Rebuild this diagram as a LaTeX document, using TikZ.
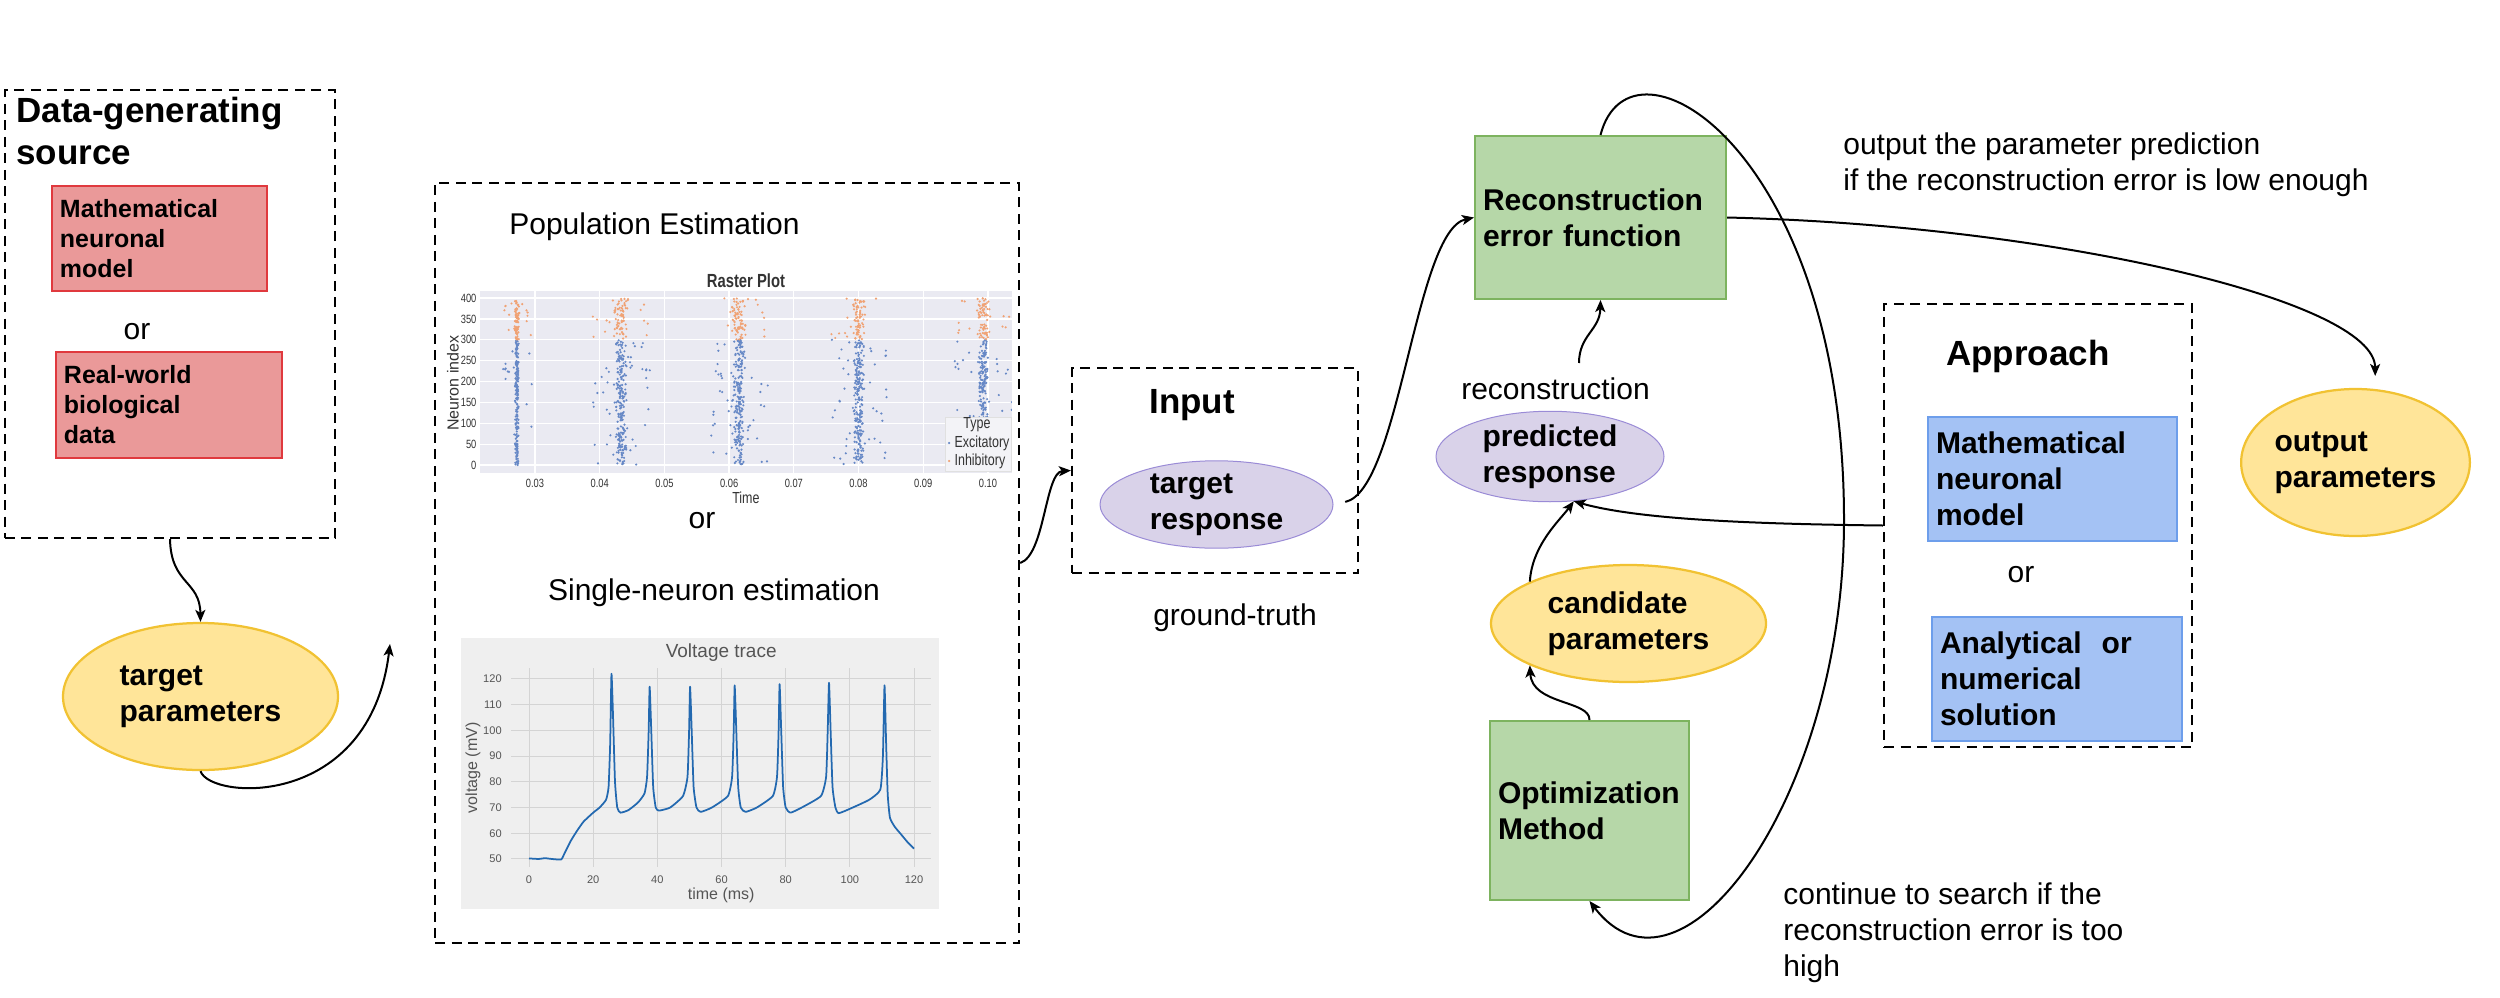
\documentclass[tikz,border=0pt]{standalone}
\usepackage{fontspec}
\setmainfont{Liberation Sans}
\usepackage{graphicx}
\usetikzlibrary{arrows.meta,shapes.geometric}

\definecolor{redfill}{HTML}{EA9999}
\definecolor{redline}{HTML}{E0393E}
\definecolor{greenfill}{HTML}{B6D7A8}
\definecolor{greenline}{HTML}{7DB35F}
\definecolor{bluefill}{HTML}{A4C2F4}
\definecolor{blueline}{HTML}{6D9EEB}
\definecolor{yelfill}{HTML}{FFE599}
\definecolor{yelline}{HTML}{F1C232}
\definecolor{lilfill}{HTML}{D9D2E9}
\definecolor{lilline}{HTML}{9A8BD6}
\definecolor{plotbg}{HTML}{EAEAF2}
\definecolor{exc}{HTML}{6688C6}
\definecolor{inh}{HTML}{F0A274}
\definecolor{vbg}{HTML}{EFEFEF}
\definecolor{vgrid}{HTML}{D4D4D4}
\definecolor{vline}{HTML}{2369B0}
\definecolor{plottxt}{HTML}{333333}
\definecolor{vtxt}{HTML}{555555}

\newcommand{\fntbox}{\fontsize{17.07pt}{20.5pt}\selectfont\bfseries}
\newcommand{\fntsmallbox}{\fontsize{14.2pt}{17.07pt}\selectfont\bfseries}
\newcommand{\fnthead}{\fontsize{19.9pt}{23.9pt}\selectfont\bfseries}
\newcommand{\fnttxt}{\fontsize{17.07pt}{20.5pt}\selectfont}
\newcommand{\sqz}[1]{\scalebox{0.78}[1]{#1}}

\begin{document}
\begin{tikzpicture}[x=0.2mm,y=-0.2mm,
  grpbox/.style={draw,dash pattern=on 2mm off 1.3mm,line width=0.45mm,inner sep=0},
  redbox/.style={draw=redline,fill=redfill,line width=0.35mm,font=\fntsmallbox,align=left,inner xsep=1.6mm},
  greenbox/.style={draw=greenline,fill=greenfill,line width=0.4mm,font=\fntbox,align=left,inner xsep=1.6mm},
  bluebox/.style={draw=blueline,fill=bluefill,line width=0.3mm,font=\fntbox,align=left,inner xsep=1.6mm},
  yelell/.style={ellipse,draw=yelline,fill=yelfill,line width=0.45mm,font=\fntbox,align=left,inner sep=0},
  lilell/.style={ellipse,draw=lilline,fill=lilfill,line width=0.2mm,font=\fntbox,align=left,inner sep=0},
  txt/.style={font=\fnttxt,inner sep=0},
  hdr/.style={font=\fnthead,inner sep=0,align=left},
  rtick/.style={font=\fontsize{6.8pt}{8pt}\selectfont,text=plottxt,inner sep=0},
  rlab/.style={font=\fontsize{9.1pt}{11pt}\selectfont,text=plottxt,inner sep=0},
  vtick/.style={font=\fontsize{6.3pt}{7.5pt}\selectfont,text=vtxt,inner sep=0},
  vlab/.style={font=\fontsize{9.1pt}{11pt}\selectfont,text=vtxt,inner sep=0},
  conn/.style={line width=0.4mm,-{Stealth[length=2.4mm,width=2mm,inset=0.6mm]}},
]
\useasboundingbox (0,0) rectangle (2500,997);

% Data-generating source
\node[grpbox,minimum width=66mm,minimum height=89.6mm] (datasrc) at (170,314) {};
\node[hdr,anchor=north west] (datatitle) at (16,97) {Data-generating\\source};
\node[redbox,text width=39.8mm,minimum height=21mm] (mathsrc) at (159.5,238.5) {Mathematical\\neuronal\\model};
\node[txt,anchor=base] (orsrc) at (137,339) {or};
\node[redbox,text width=42mm,minimum height=21.2mm] (realsrc) at (169,405) {Real-world\\biological\\data};
\node[yelell,minimum width=55mm,minimum height=29.4mm] (tparams) at (200.5,696.5) {target\\parameters};

% Estimation panel
\node[grpbox,minimum width=116.8mm,minimum height=152mm] (est) at (727,563) {};
\node[txt,anchor=base west] (poptitle) at (509,234) {Population Estimation};
\node[txt,anchor=base] (orest) at (702,528) {or};
\node[txt,anchor=base] (singtitle) at (714,600) {Single-neuron estimation};

% Raster plot (time in ms, neuron index)
\begin{scope}[shift={(68.18mm,-93mm)},x=1.294mm,y=0.0835mm]
  \fill[plotbg] (21.5,-19.2) rectangle (103.7,416.8);
  \foreach \nn in {0,50,...,400}
    \draw[white,line width=0.25mm] (21.5,\nn) -- (103.7,\nn);
  \foreach \tm in {30,40,...,100}
    \draw[white,line width=0.25mm] (\tm,-19.2) -- (\tm,416.8);
  \foreach \nn in {0,50,...,400}
    \node[rtick,anchor=east] at (21,\nn) {\sqz{\nn}};
  \foreach \tm/\lab in {30/0.03,40/0.04,50/0.05,60/0.06,70/0.07,80/0.08,90/0.09,100/0.10}
    \node[rtick] at (\tm,-43) {\sqz{\lab}};
  \node[rlab] (rtime) at (62.6,-79) {\sqz{Time}};
  \node[rlab,rotate=90] (rneur) at (17.3,196) {Neuron index};
  \node[rlab,font=\fontsize{10.8pt}{13pt}\selectfont\bfseries] (rtitle) at (62.6,440.7) {\sqz{Raster Plot}};
  \begin{scope}
    \clip (21.5,-19.2) rectangle (103.7,416.8);
    \pgfmathsetseed{11}
    \foreach \bt/\sb/\sw/\ns in {27.2/0.15/2.4/16,43.3/0.45/4.5/55,61.5/0.45/4.5/55,80.0/0.45/4.5/55,99.3/0.4/4.5/45} {
      \foreach \kk in {1,...,200} {
        \pgfmathsetmacro{\tx}{\bt+\sb*(rand+rand)}
        \pgfmathsetmacro{\ny}{150+150*rand}
        \fill[exc] (\tx,\ny) circle[radius=0.24mm];
      }
      \foreach \kk in {1,...,\ns} {
        \pgfmathsetmacro{\tx}{\bt+\sw*rand}
        \pgfmathsetmacro{\ny}{150+150*rand}
        \fill[exc] (\tx,\ny) circle[radius=0.24mm];
      }
      \foreach \kk in {1,...,70} {
        \pgfmathsetmacro{\tx}{\bt+1.4*\sb*(rand+rand)}
        \pgfmathsetmacro{\ny}{350+50*rand}
        \fill[inh] (\tx,\ny) circle[radius=0.24mm];
      }
      \foreach \kk in {1,...,12} {
        \pgfmathsetmacro{\tx}{\bt+\sw*rand}
        \pgfmathsetmacro{\ny}{350+50*rand}
        \fill[inh] (\tx,\ny) circle[radius=0.24mm];
      }
    }
  \end{scope}
  % legend
  \fill[plotbg!60!white,draw=black!12,line width=0.15mm] (93.4,-14.4) rectangle (103.6,115);
  \node[rlab] (legtype) at (98.3,95.8) {\sqz{Type}};
  \fill[exc] (94.0,52.7) circle[radius=0.24mm];
  \fill[inh] (94.0,9.6) circle[radius=0.24mm];
  \node[rlab,anchor=west] (legexc) at (94.8,52.7) {\sqz{Excitatory}};
  \node[rlab,anchor=west] (leginh) at (94.8,9.6) {\sqz{Inhibitory}};
\end{scope}

% Voltage trace (time in ms, voltage in mV)
\fill[vbg] (461,638) rectangle (939,909);
\begin{scope}[shift={(105.8mm,-197.5mm)},x=0.6417mm,y=0.5143mm]
  \foreach \vv in {50,60,...,120}
    \draw[vgrid,line width=0.2mm] (-5.6,\vv) -- (125.3,\vv);
  \foreach \tm in {0,20,...,120}
    \draw[vgrid,line width=0.2mm] (\tm,46.9) -- (\tm,124.3);
  \foreach \vv in {50,60,...,120}
    \node[vtick,anchor=east] at (-8.4,\vv) {\vv};
  \foreach \tm in {0,20,...,120}
    \node[vtick] at (\tm,41.8) {\tm};
  \node[vlab] (vtime) at (59.9,36) {time (ms)};
  \node[vlab,rotate=90] (vvolt) at (-17.5,85.4) {voltage (mV)};
  \node[vlab,font=\fontsize{10.8pt}{13pt}\selectfont] (vtitle) at (59.9,130.1) {Voltage trace};
  \draw[vline,line width=0.35mm,line join=round] plot[smooth,tension=0.3] coordinates {
    (0,50.2) (3,50) (5,50.3) (7,50) (10,49.8) (11,52) (13,57) (15,61) (17,64.5) (20,68)
    (22,70) (24,73) (24.8,78) (25.3,95) (25.7,122) (26.2,105) (26.8,80) (27.5,70) (28.5,68)
    (31,69) (34,72) (36,75.5) (36.8,82) (37.3,100) (37.6,117) (38.1,100) (38.7,78) (39.5,70)
    (40.5,68.8) (44,70) (48,74.5) (49.4,82) (49.9,100) (50.2,117) (50.7,100) (51.3,78)
    (52.2,70) (53.5,68.3) (57,70) (62,74.5) (63.3,82) (63.8,100) (64.1,117.5) (64.6,100)
    (65.2,78) (66,70) (67.5,68.3) (71,70) (76,74.5) (77.3,82) (77.8,100) (78.1,118)
    (78.6,100) (79.2,78) (80,70) (81.5,68) (85,70) (91,74.5) (92.6,82) (93.1,100)
    (93.5,118.5) (94,100) (94.6,78) (95.5,70) (96.5,67.8) (100,69.5) (106,73) (109.5,77)
    (110.3,90) (110.8,117.5) (111.3,95) (111.8,75) (112.5,66) (114,62.5) (116,59.5)
    (118,56.5) (120,54)};
\end{scope}

% Input
\node[grpbox,minimum width=57.2mm,minimum height=41mm] (inbox) at (1215,470.5) {};
\node[hdr,anchor=base west] (intitle) at (1149,413) {Input};
\node[lilell,minimum width=46.6mm,minimum height=17.4mm] (tresp) at (1216.5,504.5) {target\\response};
\node[txt,anchor=base] (gtruth) at (1235,625) {ground-truth};

% Search loop
\node[greenbox,text width=47mm,minimum height=32.6mm] (recon) at (1600.5,217.5) {Reconstruction\\error function};
\node[txt,anchor=base] (reclabel) at (1555.5,399) {reconstruction};
\node[lilell,minimum width=45.6mm,minimum height=17.8mm] (pred) at (1550,456.5) {predicted\\response};
\node[yelell,minimum width=55mm,minimum height=23.4mm] (cand) at (1628.5,623.5) {candidate\\parameters};
\node[greenbox,text width=36.6mm,minimum height=35.8mm] (optim) at (1589.5,810.5) {Optimization\\Method};
\node[txt,anchor=north west,align=left] (outnote) at (1843,132) {output the parameter prediction\\if the reconstruction error is low enough};
\node[txt,anchor=north west,align=left] (contnote) at (1783,882) {continue to search if the\\reconstruction error is too\\high};

% Approach
\node[grpbox,minimum width=61.6mm,minimum height=88.6mm] (appr) at (2038,525.5) {};
\node[hdr,anchor=base west] (apprtitle) at (1946,365) {Approach};
\node[bluebox,text width=46.6mm,minimum height=24.8mm] (mathappr) at (2052.5,479) {Mathematical\\neuronal\\model};
\node[txt,anchor=base] (orappr) at (2021,582) {or};
\node[bluebox,text width=46.8mm,minimum height=24.8mm] (numappr) at (2057,679) {Analytical~~or\\numerical\\solution};
\node[yelell,minimum width=43mm,minimum height=29.4mm] (outp) at (2355.5,462.5) {output\\parameters};

% Connectors
\draw[conn] (datasrc.south) .. controls (171,585) and (200,580) .. (tparams.north);
\coordinate (estin) at (390,644);
\draw[conn] (tparams.south) .. controls (210,800) and (370,810) .. (estin);
\draw[conn] (est.east) .. controls (1045,555) and (1045,472) .. (inbox.west);
\draw[conn,shorten <=2.4mm] (tresp.east) .. controls (1400,490) and (1415,230) .. (recon.west);
\coordinate (recfoot) at (1579,363);
\draw[conn] (recfoot) .. controls (1579,335) and (1600,330) .. (recon.south);
\draw[conn] (cand.157) .. controls (1532,545) and (1560,520) .. (pred.-62);
\draw[conn] (optim.north) .. controls (1590,700) and (1532,705) .. (cand.-157);
\draw[conn] (appr.west) .. controls (1760,524) and (1640,520) .. (pred.-62);
\draw[conn,shorten >=2.6mm] (recon.east) .. controls (2050,225) and (2375,300) .. (outp.75);
\draw[conn] (recon.north) .. controls (1630,20) and (1844,150) .. (1844,520)
  .. controls (1844,800) and (1680,1020) .. (optim.south);

\end{tikzpicture}
\end{document}
